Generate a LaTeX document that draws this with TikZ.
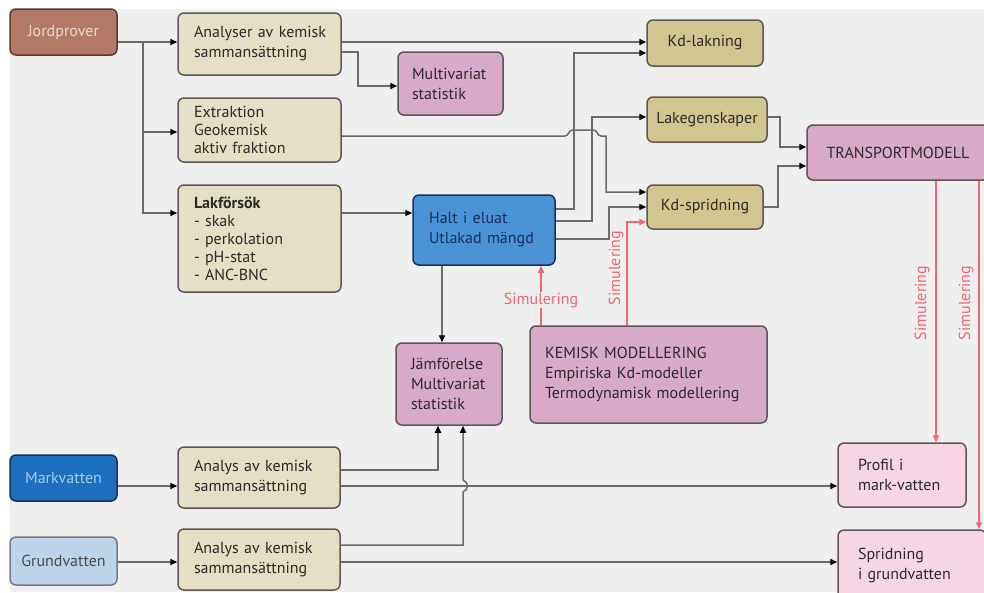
\documentclass[tikz,border=0pt]{standalone}
\usepackage{fontspec}
\setmainfont{PT Sans}
\usetikzlibrary{arrows.meta}
\definecolor{bg}{HTML}{EFEFEF}
\definecolor{jordf}{HTML}{B27A66}
\definecolor{jordt}{HTML}{EAD8CE}
\definecolor{jordb}{HTML}{5A3A30}
\definecolor{beige}{HTML}{E4DFC5}
\definecolor{khaki}{HTML}{D2C690}
\definecolor{pinkp}{HTML}{D8A9C8}
\definecolor{haltf}{HTML}{4A93D6}
\definecolor{haltt}{HTML}{1C2E5A}
\definecolor{markf}{HTML}{1C6FBF}
\definecolor{markt}{HTML}{A4CCEE}
\definecolor{grundf}{HTML}{BCD3EC}
\definecolor{lpink}{HTML}{F7D5E4}
\definecolor{bord}{HTML}{5C5656}
\definecolor{lineg}{HTML}{6A6A6A}
\definecolor{redl}{HTML}{F06575}
\definecolor{txt}{HTML}{2A2A2A}
\newcommand\fsz{\fontsize{16}{20}\selectfont}
\newcommand\fszs{\fontsize{16}{18}\selectfont}
\begin{document}
\begin{tikzpicture}[x=1pt,y=-1pt,
  bx/.style={draw=bord, line width=1.5pt, rounded corners=6pt, inner ysep=0pt, text=txt, font=\fsz},
  lt/.style={align=left},
  conn/.style={draw=lineg, line width=1.5pt, -{Triangle[length=7pt,width=6pt,color=black]}},
  redc/.style={draw=redl, line width=1.5pt, -{Triangle[length=7pt,width=6pt,color=redl]}},
  simlab/.style={text=redl, font=\fsz, inner sep=1pt}]
\useasboundingbox (0,0) rectangle (984,592);
\fill[white] (0,0) rectangle (984,592);
\fill[bg] (10,9) rectangle (984,592);

% boxes
\node[bx, draw=jordb, fill=jordf, text=jordt, minimum width=107, minimum height=46] (jord) at (63.5,32) {Jordprover};
\node[bx, fill=beige, lt, text width=131, inner xsep=16, minimum height=62] (anal) at (259.5,44) {\mbox{Analyser av kemisk}\\sammansättning};
\node[bx, fill=pinkp, lt, text width=77, inner xsep=14, minimum height=63] (multi) at (450.5,83.5) {Multivariat\\statistik};
\node[bx, fill=beige, lt, text width=131, inner xsep=16, minimum height=64, font=\fszs] (extr) at (259.5,130) {Extraktion\\Geokemisk\\aktiv fraktion};
\node[bx, fill=beige, lt, text width=131, inner xsep=16, minimum height=107, font=\fszs] (lak) at (259.5,238.5) {\textbf{Lakförsök}\\- skak\\- perkolation\\- pH-stat\\- ANC-BNC};
\node[bx, draw=haltt, fill=haltf, text=haltt, lt, text width=110, inner xsep=16, minimum height=70] (halt) at (484,230) {Halt i eluat\\Utlakad mängd};
\node[bx, fill=khaki, minimum width=116, minimum height=46] (kdl) at (705,43) {Kd-lakning};
\node[bx, fill=khaki, minimum width=120, minimum height=45] (lake) at (707,119.5) {Lakegenskaper};
\node[bx, fill=khaki, minimum width=116, minimum height=44] (kds) at (705,207) {Kd-spridning};
\node[bx, fill=pinkp, minimum width=182, minimum height=55] (trans) at (898,152.5) {};
\node[text=txt, font=\fsz] (transt) at (898,152.5) {TRANSPORTMODELL};
\node[bx, fill=pinkp, lt, text width=76, inner xsep=15, minimum height=82] (jamf) at (449,384) {Jämförelse\\Multivariat\\statistik};
\node[bx, fill=pinkp, lt, text width=207, inner xsep=15, minimum height=97] (kem) at (648.5,374.5) {KEMISK MODELLERING\\Empiriska Kd-modeller\\Termodynamisk modellering};
\node[bx, fill=lpink, lt, text width=88, inner xsep=20, minimum height=64] (profil) at (902,475) {Profil i\\mark-vatten};
\node[bx, fill=lpink, lt, text width=108, inner xsep=20, minimum height=70] (sprid) at (912,565) {Spridning\\i grundvatten};
\node[bx, draw=haltt, fill=markf, text=markt, minimum width=107, minimum height=46] (mark) at (63.5,478) {Markvatten};
\node[bx, draw=bord!80, fill=grundf, text=txt!85, minimum width=107, minimum height=48] (grund) at (63.5,561) {Grundvatten};
\node[bx, fill=beige, lt, text width=130, inner xsep=16, minimum height=61] (an1) at (259,477.5) {\mbox{Analys av kemisk}\\sammansättning};
\node[bx, fill=beige, lt, text width=130, inner xsep=16, minimum height=61] (an2) at (259,559.5) {\mbox{Analys av kemisk}\\sammansättning};

% grey connectors
\coordinate (jb) at (143,42);
\draw[conn] (jord.east |- 0,42) -- (anal.west |- 0,42);
\draw[conn] (jb) |- (extr.west |- 0,132);
\draw[conn] (jb) |- (lak.west |- 0,213);
\draw[conn] (anal.east |- 0,42) -- (kdl.west |- 0,42);
\draw[conn] (anal.east |- 0,52) -- (358,52) -- (358,86) -- (multi.west |- 0,86);
\draw[conn] (lak.east |- 0,213) -- (halt.west |- 0,213);
\draw[conn] (halt.east |- 0,209) -- (574,209) -- (574,53) -- (kdl.west |- 0,53);
\draw[conn] (halt.east |- 0,221) -- (592,221) -- (592,117) -- (lake.west |- 0,117);
\draw[conn] (halt.east |- 0,239) -- (609,239) -- (609,207) -- (kds.west |- 0,207);
\draw[conn] (extr.east |- 0,136) -- (565,136) .. controls (569,136) and (568,130) .. (573,130) -- (593,130) .. controls (598,130) and (597,136) .. (601,136) -- (606,136) -- (606,192) -- (kds.west |- 0,192);
\draw[conn] (lake.east |- 0,117) -- (780,117) -- (780,147) -- (trans.west |- 0,147);
\draw[conn] (kds.east |- 0,207) -- (778,207) -- (778,166) -- (trans.west |- 0,166);
\draw[conn] (halt.south -| 442,0) -- (jamf.north -| 442,0);
\draw[conn] (mark.east |- 0,486) -- (an1.west |- 0,486);
\draw[conn] (grund.east |- 0,562) -- (an2.west |- 0,562);
\draw[conn] (an1.east |- 0,470) -- (438,470) -- (jamf.south -| 438,0);
\draw[conn] (an1.east |- 0,486) -- (profil.west |- 0,486);
\draw[conn] (an2.east |- 0,545) -- (463,545) -- (463,492) .. controls (469,490) and (469,482) .. (463,480) -- (jamf.south -| 463,0);
\draw[conn] (an2.east |- 0,562) -- (sprid.west |- 0,562);

% red simulation connectors
\draw[redc] (kem.north -| 541,0) -- (halt.south -| 541,0);
\node[simlab, fill=bg] (sim1) at (541,300) {Simulering};
\draw[redc] (kem.north -| 627,0) -- (627,222) -- (kds.west |- 0,222);
\node[simlab, rotate=90] (sim2) at (616,268) {Simulering};
\draw[redc] (trans.south -| 936,0) -- (profil.north -| 936,0);
\node[simlab, rotate=90] (sim3) at (922,303) {Simulering};
\draw[redc] (trans.south -| 979,0) -- (sprid.north -| 979,0);
\node[simlab, rotate=90] (sim4) at (966,303) {Simulering};
\end{tikzpicture}
\end{document}
